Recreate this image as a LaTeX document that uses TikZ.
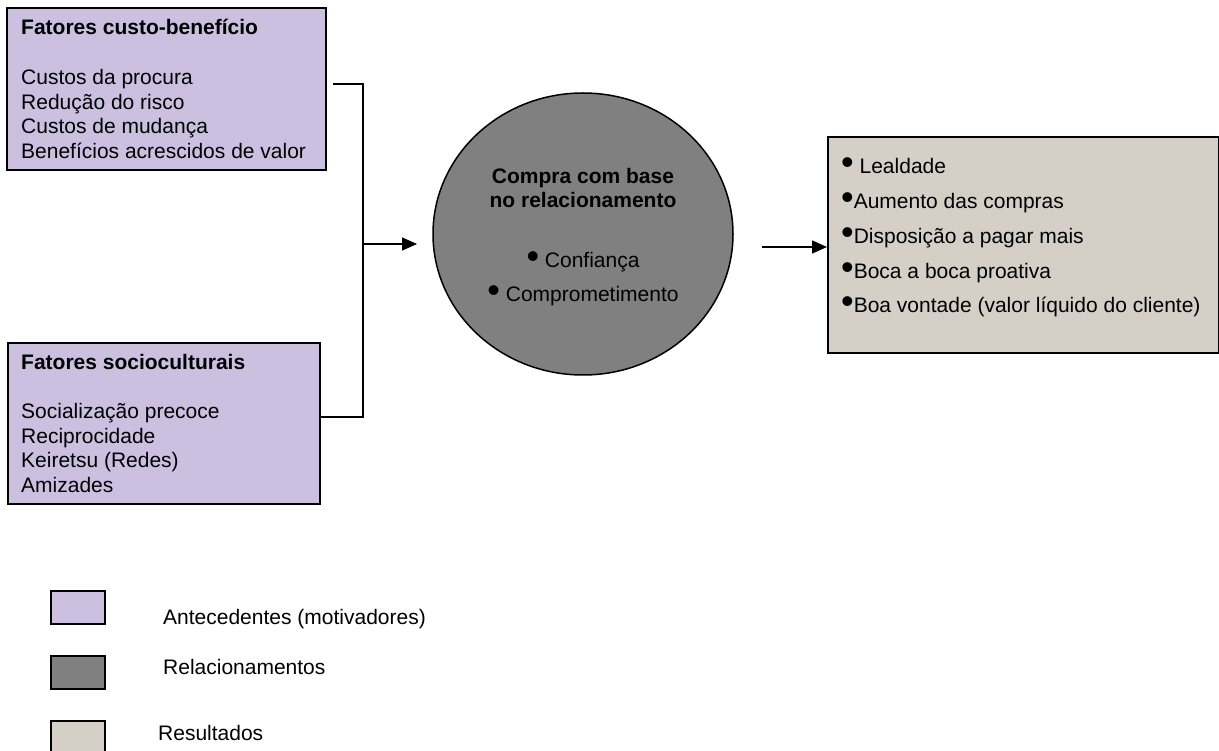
\documentclass[tikz,border=0pt]{standalone}
\usepackage{fontspec}
\setmainfont{Liberation Sans}
\usetikzlibrary{arrows.meta,positioning,shapes.geometric}

\definecolor{antecedente}{RGB}{204,192,224}
\definecolor{relacao}{RGB}{128,128,128}
\definecolor{resultado}{RGB}{212,208,200}

\newcommand{\blt}{\raisebox{-1pt}{\fontsize{36}{36}\selectfont\textbullet}}

\tikzset{
  caixa/.style={draw=black, line width=1.8pt, rectangle, inner sep=0pt, anchor=north west},
  texto/.style={font=\fontsize{21}{24.7}\selectfont, inner sep=0pt, align=left, anchor=base west},
  seta/.style={line width=1.5pt, -{Triangle[length=15pt,width=13pt]}},
  liga/.style={line width=1.5pt},
}

\begin{document}
\begin{tikzpicture}[x=1pt, y=-1pt]
\useasboundingbox (0,0) rectangle (1219,751);
%Antecedentes
\node[caixa, fill=antecedente, minimum width=319pt, minimum height=162pt] (cb) at (6,7) {};
\node[texto] (cbtxt) at (21,158.5) {\textbf{Fatores custo-benefício}\\[24.7pt]
  Custos da procura\\Redução do risco\\Custos de mudança\\Benefícios acrescidos de valor};
\node[caixa, fill=antecedente, minimum width=312pt, minimum height=161pt] (sc) at (7,342) {};
\node[texto] (sctxt) at (21,492.5) {\textbf{Fatores socioculturais}\\[24.7pt]
  Socialização precoce\\Reciprocidade\\Keiretsu (Redes)\\Amizades};
%Relacionamento
\node[ellipse, draw=black, line width=1.5pt, fill=relacao, minimum width=300pt, minimum height=282pt, inner sep=0pt] (rel) at (583,234) {};
\node[texto, align=center, anchor=base] (reltxt) at (583,302) {\textbf{Compra com base}\\\textbf{no relacionamento}\\[35.3pt]
  \blt\ Confiança\\[9.3pt]\blt\ Comprometimento};
%Resultados
\node[caixa, fill=resultado, minimum width=391pt, minimum height=216pt] (res) at (827,136) {};
\node[texto] (restxt) at (841,312.8) {\blt\ Lealdade\\[10pt]\blt Aumento das compras\\[10pt]
  \blt Disposição a pagar mais\\[10pt]\blt Boca a boca proativa\\[10pt]\blt Boa vontade (valor líquido do cliente)};
%Ligacoes
\coordinate (junta) at (363,244);
\coordinate (entrada) at (417,244);
\coordinate (saida) at (762,247);
\draw[liga] ([shift={(6pt,5pt)}]cb.east) -| (junta) |- ([yshift=6.5pt]sc.east);
\draw[seta] (junta) -- (entrada);
\draw[seta] (saida) -- (saida -| res.west);
%Legenda
\node[caixa, fill=antecedente, minimum width=54pt, minimum height=33pt] (legA) at (50,590) {};
\node[texto] (legAtxt) at (163,624) {Antecedentes (motivadores)};
\node[caixa, fill=relacao, minimum width=54pt, minimum height=33pt] (legR) at (50,655) {};
\node[texto] (legRtxt) at (163,674) {Relacionamentos};
\node[caixa, fill=resultado, minimum width=54pt, minimum height=33pt] (legS) at (50,720) {};
\node[texto] (legStxt) at (158,740) {Resultados};
\end{tikzpicture}
\end{document}
